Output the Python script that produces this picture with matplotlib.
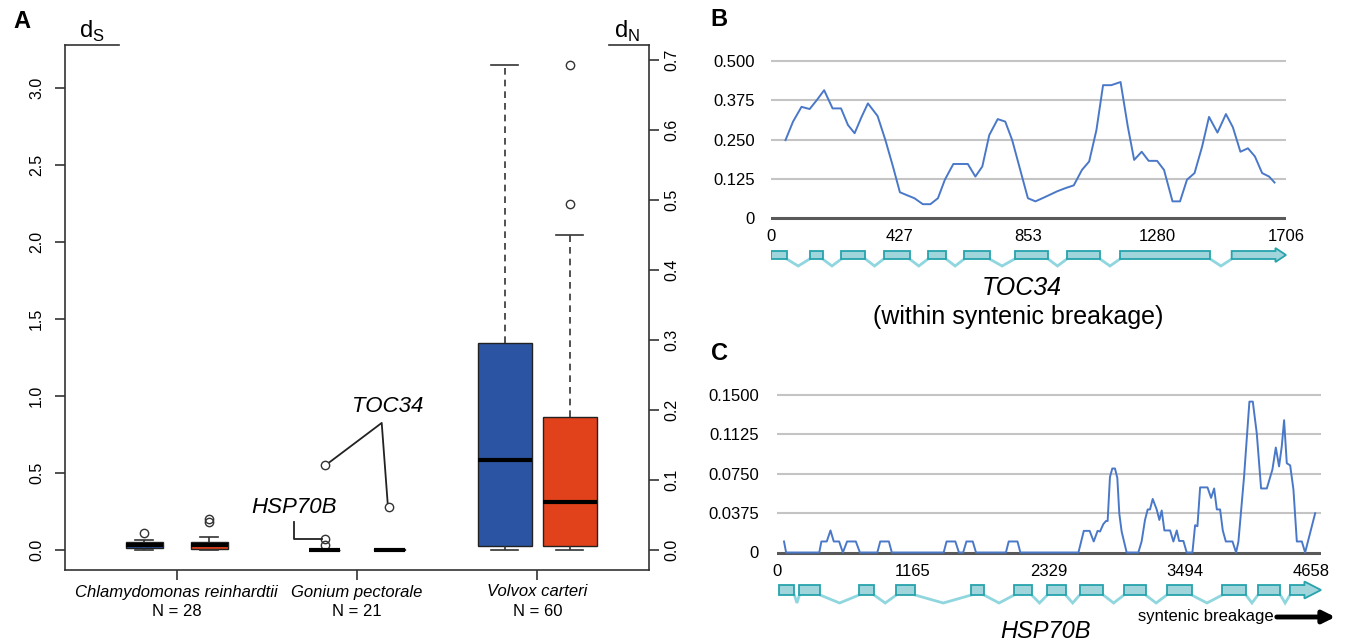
import matplotlib
matplotlib.use('Agg')
import matplotlib.pyplot as plt
from matplotlib.patches import Rectangle, Polygon, FancyArrowPatch
from matplotlib.transforms import ScaledTranslation
import numpy as np

plt.rcParams['font.family'] = ['Liberation Sans', 'DejaVu Sans']
plt.rcParams['mathtext.fontset'] = 'custom'
plt.rcParams['mathtext.rm'] = 'Liberation Sans'

# ---------------- data ----------------
species = ['Chlamydomonas reinhardtii', 'Gonium pectorale', 'Volvox carteri']
n_genes = [28, 21, 60]

ds_q1 = [0.015, 0.0, 0.026]
ds_med = [0.035, 0.0, 0.584]
ds_q3 = [0.050, 0.003, 1.346]
ds_lo = [0.0, 0.0, 0.0]
ds_hi = [0.065, 0.005, 3.149]
ds_fliers = [[0.11], [0.03, 0.07, 0.55], []]

dn_q1 = [0.001, 0.0, 0.006]
dn_med = [0.0066, 0.0, 0.068]
dn_q3 = [0.011, 0.001, 0.190]
dn_lo = [0.0, 0.0, 0.0]
dn_hi = [0.018, 0.001, 0.450]
dn_fliers = [[0.0405, 0.0448], [0.0616], [0.494, 0.693]]

toc_x = [48, 73, 101, 128, 153, 176, 204, 232, 255, 277, 300, 321, 353, 379, 404, 427, 452, 475, 503, 528,
         553, 576, 604, 652, 677, 700, 723, 751, 776, 799, 824, 851, 876, 906, 948, 975, 1003, 1030, 1054, 1078,
         1100, 1127, 1158, 1182, 1203, 1228, 1251, 1279, 1302, 1330, 1355, 1378, 1403, 1428, 1451, 1479, 1507,
         1530, 1555, 1580, 1603, 1627, 1650, 1668]
toc_y = [0.248, 0.307, 0.354, 0.347, 0.377, 0.407, 0.349, 0.349, 0.296, 0.270, 0.322, 0.365, 0.325, 0.248,
         0.164, 0.082, 0.072, 0.063, 0.044, 0.044, 0.063, 0.122, 0.172, 0.172, 0.132, 0.164, 0.264, 0.315,
         0.307, 0.248, 0.159, 0.063, 0.053, 0.066, 0.085, 0.095, 0.104, 0.153, 0.180, 0.280, 0.423, 0.423,
         0.433, 0.291, 0.185, 0.211, 0.182, 0.182, 0.153, 0.053, 0.053, 0.122, 0.143, 0.227, 0.322, 0.272,
         0.331, 0.289, 0.211, 0.222, 0.196, 0.143, 0.132, 0.113]
toc_xticks = [0, 427, 853, 1280, 1706]
toc_yticks = [0, 0.125, 0.25, 0.375, 0.5]
toc_ylabels = ['0', '0.125', '0.250', '0.375', '0.500']
toc_len = 1706
toc_exon_start = [0, 128, 233, 373, 520, 640, 807, 980, 1156, 1526]
toc_exon_end = [52, 171, 313, 459, 580, 724, 918, 1090, 1455, 1671]

hsp_x = [60, 78, 362, 380, 426, 458, 486, 532, 564, 600, 675, 710, 859, 884, 958, 983, 1427, 1452, 1527, 1558,
         1594, 1622, 1676, 1704, 1960, 1984, 2059, 2084, 2581, 2627, 2677, 2712, 2745, 2766, 2794, 2817, 2831,
         2851, 2871, 2894, 2914, 2931, 2951, 2994, 3094, 3122, 3151, 3174, 3194, 3217, 3251, 3274, 3294, 3317,
         3366, 3394, 3423, 3443, 3480, 3508, 3557, 3580, 3600, 3623, 3686, 3717, 3743, 3766, 3794, 3817, 3843,
         3900, 3931, 3951, 3999, 4045, 4074, 4108, 4145, 4194, 4242, 4271, 4299, 4322, 4342, 4365, 4394, 4422,
         4451, 4494, 4522, 4608]
hsp_y = [0.0105, 0, 0, 0.0105, 0.0105, 0.021, 0.0105, 0.0105, 0, 0.0105, 0.0105, 0, 0, 0.0105, 0.0105, 0, 0,
         0.0105, 0.0105, 0, 0, 0.0105, 0.0105, 0, 0, 0.0105, 0.0105, 0, 0, 0.0206, 0.0206, 0.0105, 0.0206,
         0.020, 0.027, 0.030, 0.030, 0.072, 0.080, 0.080, 0.071, 0.037, 0.020, 0, 0, 0.0105, 0.031, 0.041,
         0.041, 0.051, 0.041, 0.031, 0.040, 0.021, 0.021, 0.0105, 0.021, 0.011, 0.011, 0, 0, 0.026, 0.025,
         0.062, 0.062, 0.052, 0.061, 0.041, 0.041, 0.021, 0.0105, 0.0105, 0, 0.0105, 0.072, 0.1437, 0.1437,
         0.1135, 0.061, 0.061, 0.079, 0.100, 0.082, 0.101, 0.126, 0.085, 0.083, 0.060, 0.0105, 0.0105, 0,
         0.0374]
hsp_xticks = [0, 1165, 2329, 3494, 4658]
hsp_yticks = [0, 0.0375, 0.075, 0.1125, 0.15]
hsp_ylabels = ['0', '0.0375', '0.0750', '0.1125', '0.1500']
hsp_len = 4658
hsp_exon_start = [18, 192, 703, 1022, 1665, 2031, 2315, 2592, 2971, 3337, 3813, 4118, 4392]
hsp_exon_end = [149, 369, 831, 1182, 1772, 2180, 2471, 2794, 3156, 3550, 4015, 4310, 4516]

# ---------------- figure ----------------
W, H = 1350, 644
fig = plt.figure(figsize=(13.5, 6.44), dpi=100)


def px_axes(x0, y0, x1, y1):
    return fig.add_axes([x0 / W, 1 - y1 / H, (x1 - x0) / W, (y1 - y0) / H])


def fx(x):
    return x / W


def fy(y):
    return 1 - y / H


BLUE = '#2b55a3'
RED = '#e1421b'
DARK = '#333333'

# ---------------- Panel A ----------------
ax = px_axes(65, 45, 649, 570)
ax2 = ax.twinx()
ax.set_xlim(0.381, 3.619)
ax.set_ylim(-0.13, 3.279)
ax2.set_ylim(-0.0286, 0.7214)

group_pos = np.arange(1, 4)
offset = 0.18
widths = 0.299 * np.sqrt(np.array(n_genes)) / np.sqrt(60)


def make_stats(q1, med, q3, lo, hi, fl):
    return [dict(q1=a, med=b, q3=c, whislo=d, whishi=e, fliers=f)
            for a, b, c, d, e, f in zip(q1, med, q3, lo, hi, fl)]


common = dict(widths=widths, capwidths=widths * 0.5, patch_artist=True, manage_ticks=False,
              whiskerprops=dict(color=DARK, lw=1.2, linestyle=(0, (4, 3))),
              capprops=dict(color=DARK, lw=1.2),
              medianprops=dict(color='black', lw=3),
              flierprops=dict(marker='o', markerfacecolor='none', markeredgecolor=DARK,
                              markersize=6, markeredgewidth=1))
ax.bxp(make_stats(ds_q1, ds_med, ds_q3, ds_lo, ds_hi, ds_fliers), positions=group_pos - offset,
       boxprops=dict(facecolor=BLUE, edgecolor='#222222', lw=1), **common)
ax2.bxp(make_stats(dn_q1, dn_med, dn_q3, dn_lo, dn_hi, dn_fliers), positions=group_pos + offset,
        boxprops=dict(facecolor=RED, edgecolor='#222222', lw=1), **common)

for a in (ax, ax2):
    for s in a.spines.values():
        s.set_color(DARK)
        s.set_linewidth(1.2)
    a.spines['top'].set_visible(False)
ax.spines['right'].set_visible(False)
ax2.spines['left'].set_visible(False)
ax2.spines['bottom'].set_visible(False)

ax.set_xticks(group_pos)
ax.set_xticklabels([])
ax.tick_params(axis='x', length=7, width=1.2, color=DARK)
ds_ticks = np.arange(0, 3.01, 0.5)
ax.set_yticks(ds_ticks)
ax.set_yticklabels(['%.1f' % v for v in ds_ticks])
ax.tick_params(axis='y', length=7, width=1.2, color=DARK, labelsize=11.5, pad=8)
for lbl in ax.get_yticklabels():
    lbl.set_rotation(90)
    lbl.set_va('center')
dn_ticks = np.arange(0, 0.71, 0.1)
ax2.set_yticks(dn_ticks)
ax2.set_yticklabels(['%.1f' % v for v in dn_ticks])
ax2.tick_params(axis='y', length=7, width=1.2, color=DARK, labelsize=11.5, pad=4)
for lbl in ax2.get_yticklabels():
    lbl.set_rotation(90)
    lbl.set_va('center')

# partial top border segments
ax.plot([0, 0.0925], [1, 1], transform=ax.transAxes, clip_on=False, color=DARK, lw=1.2)
ax.plot([0.9315, 1], [1, 1], transform=ax.transAxes, clip_on=False, color=DARK, lw=1.2)
fig.text(fx(92), fy(31), r'd$_\mathrm{S}$', ha='center', va='center', fontsize=17)
fig.text(fx(627), fy(31), r'd$_\mathrm{N}$', ha='center', va='center', fontsize=17)

xt = ax.get_xaxis_transform()
for p, name, n in zip(group_pos, species, n_genes):
    ax.text(p, (570 - 592) / 525, name, style='italic', ha='center', va='center', fontsize=12, transform=xt)
    ax.text(p, (570 - 612) / 525, 'N = %d' % n, ha='center', va='center', fontsize=12, transform=xt)

# gene annotations
ax.plot([1.849, 2.137, 2.170], [0.571, 0.825, 0.305], color='#222222', lw=1.3)
ax.text(2.170, 0.929, 'TOC34', style='italic', fontsize=16, ha='center', va='center')
ax.plot([1.650, 1.650, 1.805], [0.182, 0.071, 0.071], color='#222222', lw=1.3)
ax.text(1.650, 0.279, 'HSP70B', style='italic', fontsize=16, ha='center', va='center')

# ---------------- helpers for B/C ----------------
LINE = '#4a78c8'
GRID = '#c4c4c4'
ZERO = '#595959'
EXON_FILL = '#9fd5db'
EXON_EDGE = '#26a3ad'
INTRON = '#8fd6df'


def line_panel(x0, x1, y_top_px, y_zero_px, ymax, xs, ys, length, xticks, yticks, ylabels, ypad, xpad):
    per = ymax / (y_zero_px - y_top_px)
    a = px_axes(x0, y_top_px - 3, x1, y_zero_px + 3)
    a.set_xlim(0, length)
    a.set_ylim(-3 * per, ymax + 3 * per)
    for yv in yticks[1:]:
        a.axhline(yv, color=GRID, lw=1.5, zorder=1)
    a.axhline(0, color=ZERO, lw=2.2, zorder=1)
    a.plot(xs, ys, color=LINE, lw=1.4, zorder=3)
    for s in a.spines.values():
        s.set_visible(False)
    a.set_xticks(xticks)
    a.set_xticklabels([str(v) for v in xticks])
    a.set_yticks(yticks)
    a.set_yticklabels(ylabels)
    a.tick_params(axis='both', length=0, labelsize=12)
    a.tick_params(axis='y', pad=ypad)
    a.tick_params(axis='x', pad=xpad)
    return a


def gene_panel(x0, x1, ytop, ybot, vdepth, head_extra, length, starts, ends):
    g = px_axes(x0, ytop - 10, x1, ybot + vdepth + 6)
    g.set_xlim(0, length)
    g.set_ylim(ybot + vdepth + 6, ytop - 10)
    g.axis('off')
    for i in range(len(starts) - 1):
        e, s2 = ends[i], starts[i + 1]
        g.plot([e, (e + s2) / 2, s2], [ybot, ybot + vdepth, ybot], color=INTRON, lw=2, zorder=1,
               solid_joinstyle='miter')
    for s, e in zip(starts[:-1], ends[:-1]):
        g.add_patch(Rectangle((s, ytop), e - s, ybot - ytop, facecolor=EXON_FILL, edgecolor=EXON_EDGE,
                              lw=1.3, zorder=2))
    s, hs = starts[-1], ends[-1]
    mid = (ytop + ybot) / 2
    g.add_patch(Polygon([(s, ytop), (hs, ytop), (hs, ytop - head_extra), (length, mid),
                         (hs, ybot + head_extra), (hs, ybot), (s, ybot)], closed=True,
                        facecolor=EXON_FILL, edgecolor=EXON_EDGE, lw=1.3, zorder=2, clip_on=False))
    return g


# ---------------- Panel B ----------------
line_panel(771, 1286, 61, 218, 0.5, toc_x, toc_y, toc_len, toc_xticks, toc_yticks, toc_ylabels,
           ypad=11.5, xpad=6)
gene_panel(771, 1286, 251, 259, 7, 3, toc_len, toc_exon_start, toc_exon_end)
fig.text(fx(1022), fy(288), 'TOC34', style='italic', fontsize=18, ha='center', va='center')
fig.text(fx(1018), fy(317), '(within syntenic breakage)', fontsize=18, ha='center', va='center')

# ---------------- Panel C ----------------
axC = line_panel(777, 1321, 395, 552.5, 0.15, hsp_x, hsp_y, hsp_len, hsp_xticks, hsp_yticks, hsp_ylabels,
                 ypad=13, xpad=6)
last_lbl = axC.get_xticklabels()[-1]
last_lbl.set_transform(last_lbl.get_transform() + ScaledTranslation(-0.10, 0, fig.dpi_scale_trans))
gene_panel(777, 1321, 585, 595, 8, 3.5, hsp_len, hsp_exon_start, hsp_exon_end)
fig.text(fx(1206), fy(617), 'syntenic breakage', fontsize=12, ha='center', va='center')
fig.add_artist(FancyArrowPatch((fx(1274), fy(617)), (fx(1338), fy(617)),
                               transform=fig.transFigure, arrowstyle='-|>',
                               mutation_scale=18, lw=3.5, color='black'))
fig.text(fx(1046), fy(631), 'HSP70B', style='italic', fontsize=17, ha='center', va='center')

# panel labels
fig.text(fx(22), fy(21), 'A', fontweight='bold', fontsize=17, ha='center', va='center')
fig.text(fx(719), fy(20), 'B', fontweight='bold', fontsize=17, ha='center', va='center')
fig.text(fx(719), fy(353), 'C', fontweight='bold', fontsize=17, ha='center', va='center')

fig.savefig('out.png', dpi=100)
